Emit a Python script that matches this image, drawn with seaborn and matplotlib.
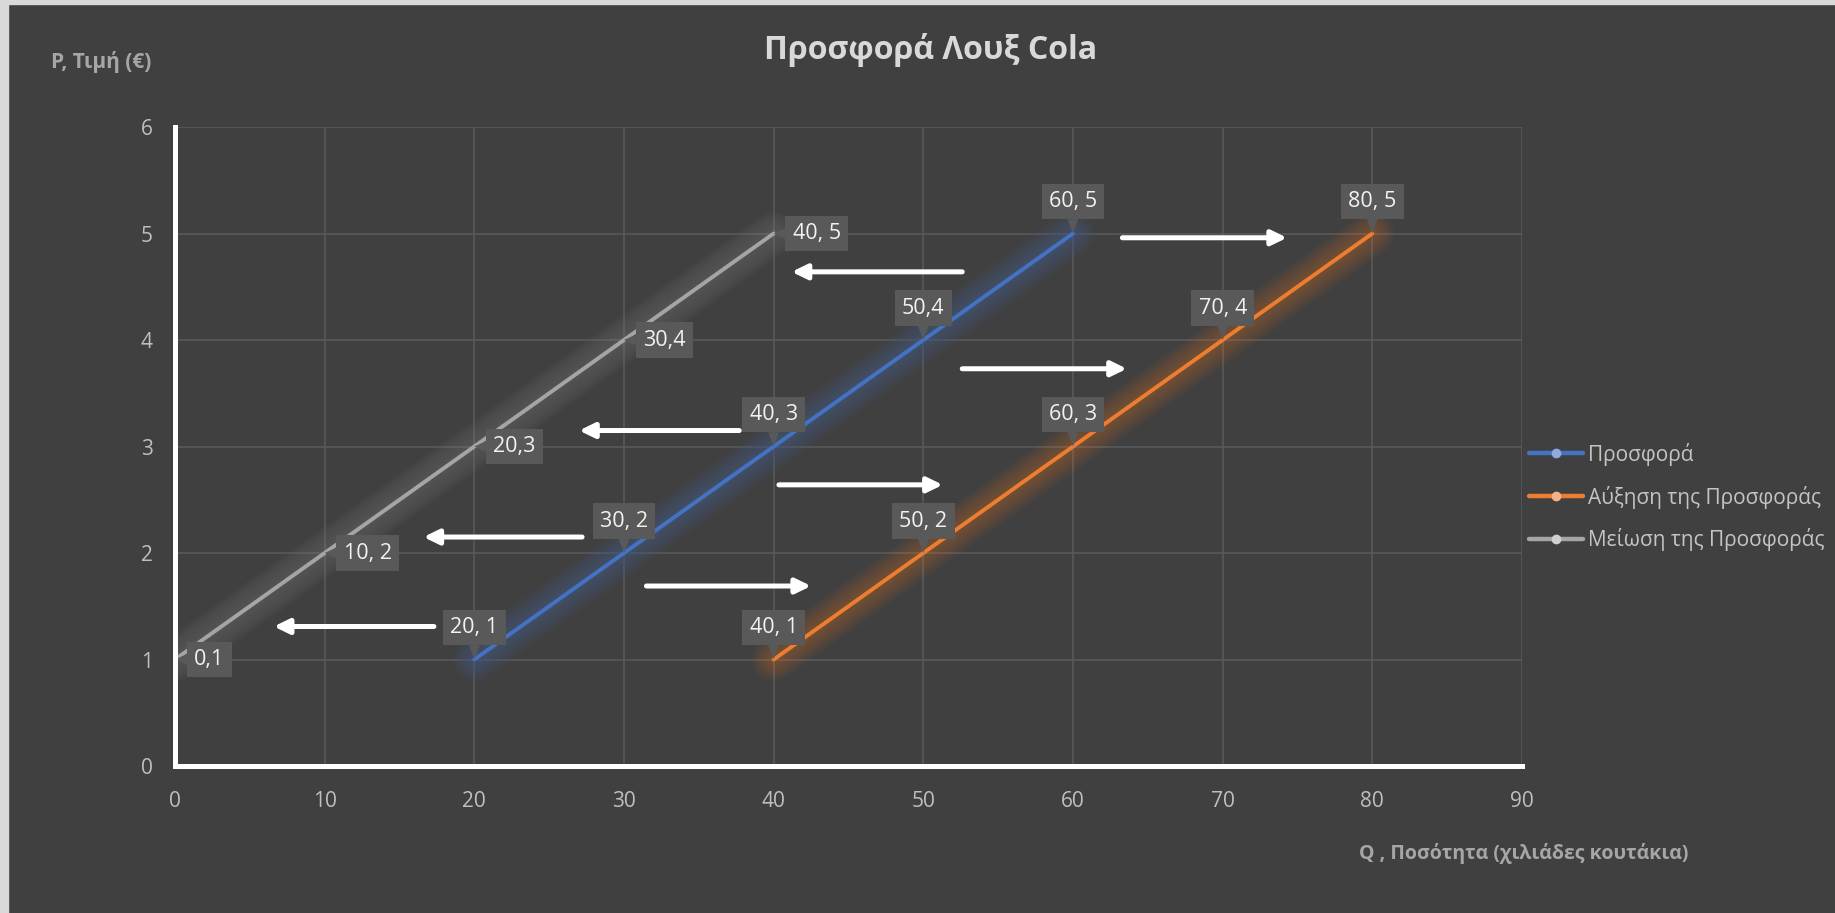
import numpy as np
import pandas as pd
import matplotlib
matplotlib.use("Agg")
import matplotlib.pyplot as plt
from matplotlib.lines import Line2D
from matplotlib.patches import Rectangle
import seaborn as sns

# ---- data -------------------------------------------------------------
series_names = ["Προσφορά", "Αύξηση της Προσφοράς", "Μείωση της Προσφοράς"]
price = [1, 2, 3, 4, 5]
q_supply = [20, 30, 40, 50, 60]
q_increase = [40, 50, 60, 70, 80]
q_decrease = [0, 10, 20, 30, 40]
labels_supply = ["20, 1", "30, 2", "40, 3", "50,4", "60, 5"]
labels_increase = ["40, 1", "50, 2", "60, 3", "70, 4", "80, 5"]
labels_decrease = ["0,1", "10, 2", "20,3", "30,4", "40, 5"]

# shift arrows: (start quantity, end quantity, price level)
left_arrows = [(52.6, 41.2, 4.64), (37.7, 27.0, 3.15), (27.2, 16.6, 2.15), (17.3, 6.6, 1.31)]
right_arrows = [(63.3, 74.3, 4.96), (52.6, 63.6, 3.73), (40.35, 51.3, 2.64), (31.5, 42.5, 1.69)]

x_ticks = list(range(0, 91, 10))
y_ticks = list(range(0, 7))

title = "Προσφορά Λουξ Cola"
y_title = "P, Τιμή (€)"
x_title = "Q , Ποσότητα (χιλιάδες κουτάκια)"

# ---- style ------------------------------------------------------------
BG = "#404040"
GRID = "#595959"
BOX = "#595959"
colors = ["#4472C4", "#ED7D31", "#A5A5A5"]
glow_colors = ["#4472C4", "#ED7D31", "#C8C8C8"]
marker_colors = ["#8FAADC", "#F4B183", "#D0D0D0"]

sns.set_theme(style="dark", rc={
    "figure.facecolor": BG,
    "axes.facecolor": BG,
    "savefig.facecolor": BG,
})
plt.rcParams["font.family"] = ["Open Sans", "DejaVu Sans"]

df = pd.concat([
    pd.DataFrame({"Q": q, "P": price, "series": name, "label": labs})
    for q, name, labs in zip([q_supply, q_increase, q_decrease], series_names,
                             [labels_supply, labels_increase, labels_decrease])
], ignore_index=True)

W, H = 1835, 913
fig = plt.figure(figsize=(W / 100, H / 100), dpi=100)
ax = fig.add_axes([175 / W, 1 - 766 / H, (1522 - 175) / W, (766 - 127) / H])
ax.set_facecolor(BG)

# gridlines
ax.set_xlim(0, 90)
ax.set_ylim(0, 6)
ax.set_xticks(x_ticks)
ax.set_yticks(y_ticks)
ax.grid(True, color=GRID, lw=1.2, zorder=0)
ax.set_axisbelow(True)

# soft glow under each line
glow_alpha = [0.026, 0.026, 0.014]
for name, gc, ga in zip(series_names, glow_colors, glow_alpha):
    sub = df[df["series"] == name]
    for lw in np.linspace(4, 32, 14):
        sns.lineplot(data=sub, x="Q", y="P", ax=ax, color=gc, lw=lw, alpha=ga,
                     legend=False, sort=False, solid_capstyle="round", zorder=2)

# main lines
sns.lineplot(data=df, x="Q", y="P", hue="series", palette=colors, ax=ax,
             lw=2.8, legend=False, sort=False, zorder=3)

# data labels
for name, lab_list in zip(series_names, [labels_supply, labels_increase, labels_decrease]):
    sub = df[df["series"] == name]
    for q, p, lab in zip(sub["Q"], sub["P"], lab_list):
        if name == series_names[2]:
            xytext, ha = (19, 0), "left"
        else:
            xytext, ha = (0, 32), "center"
        ax.annotate(lab, xy=(q, p), xytext=xytext, textcoords="offset pixels",
                    ha=ha, va="center", fontsize=15.5, color="#F2F2F2", zorder=6,
                    bbox=dict(boxstyle="square,pad=0.34", fc=BOX, ec="none"),
                    arrowprops=dict(arrowstyle="wedge,tail_width=0.5,shrink_factor=0.5",
                                    fc=BOX, ec="none", shrinkA=0, shrinkB=0),
                    annotation_clip=False)

# shift arrows
for x0, x1, y in left_arrows + right_arrows:
    ax.annotate("", xy=(x1, y), xytext=(x0, y),
                arrowprops=dict(arrowstyle="-|>,head_length=0.45,head_width=0.22",
                                color="white", lw=3.6, mutation_scale=20,
                                shrinkA=0, shrinkB=0),
                zorder=7)

# axes appearance
for s in ["top", "right"]:
    ax.spines[s].set_visible(False)
for s in ["left", "bottom"]:
    ax.spines[s].set_visible(True)
    ax.spines[s].set_color("white")
    ax.spines[s].set_linewidth(3.6)
    ax.spines[s].set_zorder(8)
ax.tick_params(axis="both", length=0, labelsize=15, labelcolor="#BFBFBF")
ax.tick_params(axis="x", pad=18)
ax.tick_params(axis="y", pad=16)
ax.set_xlabel("")
ax.set_ylabel("")

# titles
fig.text(931 / W, 1 - 50 / H, title, ha="center", va="center", fontsize=23,
         fontweight="bold", color="#D9D9D9")
fig.text(101 / W, 1 - 62 / H, y_title, ha="center", va="center", fontsize=15,
         fontweight="bold", color="#A6A6A6")
fig.text(1524 / W, 1 - 853 / H, x_title, ha="center", va="center", fontsize=14,
         fontweight="bold", color="#A6A6A6")

# legend
handles = [Line2D([0], [0], color=c, lw=3.2, marker="o", markersize=6,
                  markerfacecolor=mc, markeredgecolor=mc)
           for c, mc in zip(colors, marker_colors)]
leg = fig.legend(handles, series_names, loc="center left",
                 bbox_to_anchor=(1529 / W, 1 - 497 / H), frameon=False,
                 fontsize=15, labelcolor="#C4C4C4", handlelength=2.6,
                 handletextpad=0.25, labelspacing=0.95, borderpad=0,
                 borderaxespad=0)

# frame edges
fig.add_artist(Rectangle((0, 1 - 4 / H), 1, 4 / H, transform=fig.transFigure,
                         color="#D9D9D9", zorder=10))
fig.add_artist(Rectangle((0, 0), 8 / W, 1, transform=fig.transFigure,
                         color="#D9D9D9", zorder=10))

fig.savefig("out.png", dpi=100, facecolor=BG)
